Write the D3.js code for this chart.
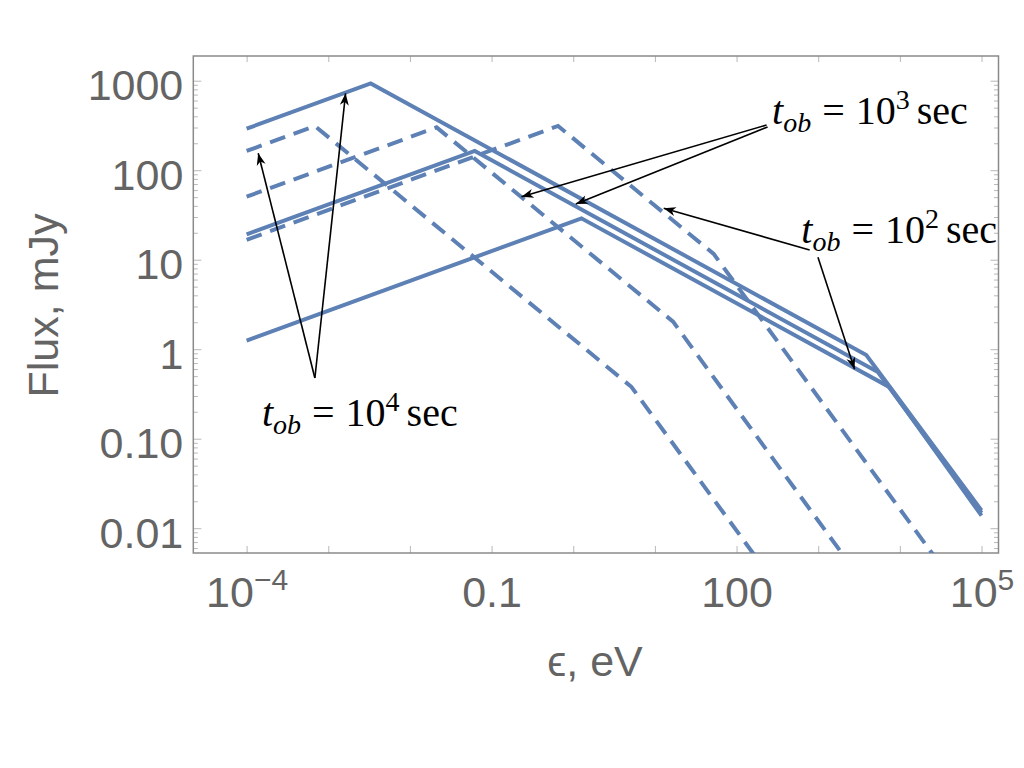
<!DOCTYPE html>
<html>
<head>
<meta charset="utf-8">
<script src="https://cdn.jsdelivr.net/npm/d3@7"></script>
<style>
  body { margin: 0; background: #fff; }
  svg { display: block; }
  .tick line { stroke: #b8b8b8; }
  .domain { stroke: none; }
</style>
</head>
<body>
<div id="chart"></div>
<script>
// Spectra: [energy eV, flux mJy] at the break points
const solid1e4 = [[1e-4, 291], [3.31e-3, 933], [3880, 0.861], [1e5, 0.0158]];
const solid1e3 = [[1e-4, 19.2], [0.0622, 164], [5380, 0.557], [1e5, 0.0148]];
const solid1e2 = [[1e-4, 1.25], [1.26, 29.0], [7480, 0.377], [1e5, 0.0138]];
const dashed1e4 = [[1e-4, 164], [6.85e-4, 312], [5.15, 0.38], [1e5, 1.7e-6]];
const dashed1e3 = [[1e-4, 50.6], [0.0212, 301], [16.7, 2.03], [1e5, 3.8e-5]];
const dashed1e2 = [[1e-4, 16.7], [0.652, 312], [52.5, 11.6], [1e5, 9.2e-4]];

const solidSeries = [solid1e4, solid1e3, solid1e2];
const dashedSeries = [dashed1e4, dashed1e3, dashed1e2];

// Ticks
const xTicks = [1e-4, 1e-3, 1e-2, 1e-1, 1, 10, 100, 1e3, 1e4, 1e5];
const xLabels = [["10", "\u22124"], null, null, ["0.1"], null, null, ["100"], null, null, ["10", "5"]];
const yTicks = [0.01, 0.1, 1, 10, 100, 1000];
const yLabels = ["0.01", "0.10", "1", "10", "100", "1000"];

// Annotations: label exponent, label anchor, arrows [tail, head] in data units
const notes = [
    {exp: "3", at: [10 ** 2.435, 10 ** 2.516],
     arrows: [[[10 ** 2.368, 10 ** 2.505], [10 ** -0.634, 10 ** 1.704]],
              [[10 ** 2.38, 10 ** 2.483], [10 ** 0.031, 10 ** 1.622]]]},
    {exp: "2", at: [10 ** 2.793, 10 ** 1.19],
     arrows: [[[10 ** 2.895, 10 ** 1.109], [10 ** 1.108, 10 ** 1.574]],
              [[10 ** 2.997, 10 ** 1.027], [10 ** 3.445, 10 ** -0.225]]]},
    {exp: "4", at: [10 ** -3.813, 10 ** -0.858],
     arrows: [[[10 ** -3.164, 10 ** -0.322], [10 ** -3.858, 10 ** 2.189]],
              [[10 ** -3.164, 10 ** -0.322], [10 ** -2.788, 10 ** 2.859]]]}
];

const W = 1024, H = 768;
const frame = {left: 193.3, right: 998.5, top: 56, bottom: 553};
const blue = "#5e81b5";
const labelGray = "#646464";

const svg = d3.select("#chart").append("svg")
    .attr("width", W)
    .attr("height", H);

const x = d3.scaleLog()
    .domain([10 ** -4.653, 10 ** 5.208])
    .range([frame.left, frame.right]);

const y = d3.scaleLog()
    .domain([10 ** -2.277, 10 ** 3.276])
    .range([frame.bottom, frame.top]);

// minor ticks for the flux axis
const yMinor = [];
for (let e = -3; e <= 3; e++) {
    for (let k = 2; k <= 9; k++) {
        const v = k * 10 ** e;
        if (v > y.domain()[0] && v < y.domain()[1]) yMinor.push(v);
    }
}

const fw = frame.right - frame.left;
const fh = frame.bottom - frame.top;

// minor ticks (left + right)
svg.append("g")
    .attr("transform", `translate(${frame.left},0)`)
    .call(d3.axisLeft(y).tickValues(yMinor).tickSize(-4.5).tickFormat(""));
svg.append("g")
    .attr("transform", `translate(${frame.right},0)`)
    .call(d3.axisRight(y).tickValues(yMinor).tickSize(-4.5).tickFormat(""));

// left axis with labels
const yAxis = svg.append("g")
    .attr("transform", `translate(${frame.left},0)`)
    .call(d3.axisLeft(y).tickValues(yTicks).tickSize(-8).tickPadding(10)
        .tickFormat((d, i) => yLabels[i]));
svg.append("g")
    .attr("transform", `translate(${frame.right},0)`)
    .call(d3.axisRight(y).tickValues(yTicks).tickSize(-8).tickFormat(""));

yAxis.selectAll("text")
    .attr("dy", "0.44em")
    .style("font-family", "'Liberation Sans', Arial, sans-serif")
    .style("font-size", "43px")
    .style("fill", labelGray);

// bottom axis
const xAxis = svg.append("g")
    .attr("transform", `translate(0,${frame.bottom})`)
    .call(d3.axisBottom(x).tickValues(xTicks).tickSize(-7).tickPadding(23).tickFormat(""));
svg.append("g")
    .attr("transform", `translate(0,${frame.top})`)
    .call(d3.axisTop(x).tickValues(xTicks).tickSize(-6).tickFormat(""));

xAxis.selectAll(".tick text")
    .style("font-family", "'Liberation Sans', Arial, sans-serif")
    .style("font-size", "43px")
    .style("fill", labelGray)
    .each(function(d, i) {
        const parts = xLabels[i];
        if (!parts) return;
        const t = d3.select(this);
        t.append("tspan").text(parts[0]);
        if (parts.length > 1) {
            t.append("tspan").attr("dy", "-0.55em").style("font-size", "30px").text(parts[1]);
        }
    });

// frame
svg.append("rect")
    .attr("x", frame.left)
    .attr("y", frame.top)
    .attr("width", fw)
    .attr("height", fh)
    .attr("fill", "none")
    .attr("stroke", "#8a8a8a")
    .attr("stroke-width", 1.5);

// axis titles
svg.append("text")
    .attr("transform", `translate(58,${(frame.top + frame.bottom) / 2 + 1}) rotate(-90)`)
    .attr("text-anchor", "middle")
    .style("font-family", "'Liberation Sans', Arial, sans-serif")
    .style("font-size", "43px")
    .style("fill", labelGray)
    .text("Flux, mJy");

svg.append("text")
    .attr("x", 595)
    .attr("y", 676)
    .attr("text-anchor", "middle")
    .style("font-family", "'Liberation Sans', Arial, sans-serif")
    .style("font-size", "43px")
    .style("fill", labelGray)
    .text("\u03f5, eV");

// curves
svg.append("clipPath").attr("id", "plotArea")
    .append("rect")
    .attr("x", frame.left)
    .attr("y", frame.top)
    .attr("width", fw)
    .attr("height", fh);

const line = d3.line()
    .x(d => x(d[0]))
    .y(d => y(d[1]));

const curves = svg.append("g").attr("clip-path", "url(#plotArea)");

curves.selectAll(".dashed")
    .data(dashedSeries)
    .enter()
    .append("path")
    .attr("class", "dashed")
    .attr("d", line)
    .attr("fill", "none")
    .attr("stroke", blue)
    .attr("stroke-width", 4)
    .attr("stroke-dasharray", "16,9");

curves.selectAll(".solid")
    .data(solidSeries)
    .enter()
    .append("path")
    .attr("class", "solid")
    .attr("d", line)
    .attr("fill", "none")
    .attr("stroke", blue)
    .attr("stroke-width", 4)
    .attr("stroke-linejoin", "miter");

// arrows
svg.append("defs").append("marker")
    .attr("id", "head")
    .attr("viewBox", "-13 -5 14 10")
    .attr("refX", 0)
    .attr("refY", 0)
    .attr("markerUnits", "userSpaceOnUse")
    .attr("markerWidth", 14)
    .attr("markerHeight", 10)
    .attr("orient", "auto")
    .append("path")
    .attr("d", "M0,0 L-12,-4.5 L-8.5,0 L-12,4.5 Z")
    .attr("fill", "#000");

const notesG = svg.append("g");

notes.forEach(n => {
    n.arrows.forEach(a => {
        notesG.append("line")
            .attr("x1", x(a[0][0]))
            .attr("y1", y(a[0][1]))
            .attr("x2", x(a[1][0]))
            .attr("y2", y(a[1][1]))
            .attr("stroke", "#000")
            .attr("stroke-width", 1.6)
            .attr("marker-end", "url(#head)");
    });

    const t = notesG.append("text")
        .attr("x", x(n.at[0]))
        .attr("y", y(n.at[1]))
        .style("font-family", "'Liberation Serif', 'Times New Roman', serif")
        .style("font-size", "40px")
        .style("fill", "#000");
    t.append("tspan").style("font-style", "italic").text("t");
    t.append("tspan").style("font-style", "italic").style("font-size", "28px")
        .attr("dy", 8).text("ob");
    t.append("tspan").attr("dy", -8).attr("dx", 11).text("=");
    t.append("tspan").attr("dx", 11).text("10");
    t.append("tspan").style("font-size", "28px").attr("dy", -15).text(n.exp);
    t.append("tspan").attr("dy", 15).attr("dx", 7).text("sec");
});
</script>
</body>
</html>
